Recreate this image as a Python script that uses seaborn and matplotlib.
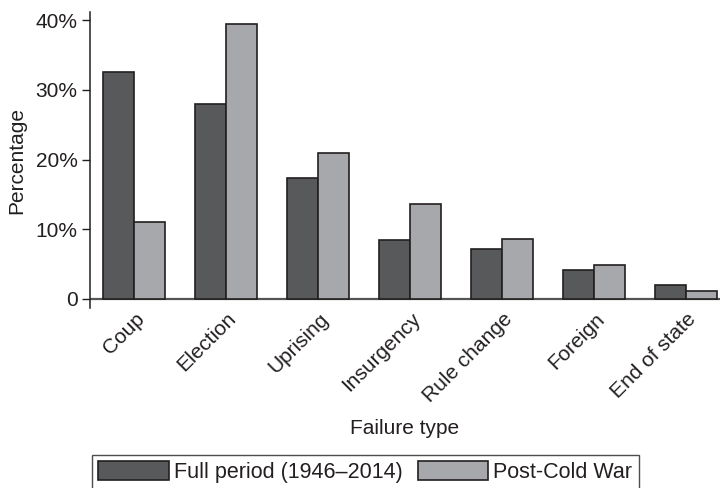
import matplotlib
matplotlib.use("Agg")
import matplotlib.pyplot as plt
import matplotlib.transforms as mtransforms
import seaborn as sns
import pandas as pd

categories = ["Coup", "Election", "Uprising", "Insurgency", "Rule change", "Foreign", "End of state"]
full_period = [32.6, 28.0, 17.4, 8.4, 7.1, 4.2, 2.05]
post_cold_war = [11.1, 39.4, 20.9, 13.6, 8.6, 4.9, 1.2]
series_names = ["Full period (1946\u20132014)", "Post-Cold War"]
ytick_vals = [0, 10, 20, 30, 40]
ytick_labels = ["0", "10%", "20%", "30%", "40%"]

df = pd.DataFrame({
    "type": categories * 2,
    "value": full_period + post_cold_war,
    "series": [series_names[0]] * len(categories) + [series_names[1]] * len(categories),
})

sns.set_style("white")
plt.rcParams["font.family"] = ["Liberation Sans", "DejaVu Sans"]
txt = "#231f20"

fig = plt.figure(figsize=(7.2, 4.88), dpi=100)
ax = fig.add_axes([0.125, 0.369, 0.875, 0.606])

sns.barplot(data=df, x="type", y="value", hue="series", order=categories,
            hue_order=series_names, palette=["#58595b", "#a7a8ab"],
            width=0.674, edgecolor="#231f20", linewidth=1.2, saturation=1,
            ax=ax, legend=True)

ax.set_xlim(-0.478, 6.37)
ax.set_ylim(-1.3, 41.15)
ax.set_yticks(ytick_vals)
ax.set_yticklabels(ytick_labels)
for s in ["top", "right", "bottom"]:
    ax.spines[s].set_visible(False)
ax.spines["left"].set_color("#231f20")
ax.spines["left"].set_linewidth(1.1)
ax.axhline(0, color="#555555", linewidth=1.6, zorder=0.5)
ax.tick_params(axis="y", length=6, width=1.0, color="#231f20", labelsize=15,
               labelcolor=txt, pad=3, left=True)
ax.tick_params(axis="x", length=0, labelsize=15, labelcolor=txt, pad=2)
ax.set_xticks(range(len(categories)))
ax.set_xticklabels(categories, rotation=45, ha="right", va="center",
                   rotation_mode="anchor")
offset = mtransforms.ScaledTranslation(0.075, -0.05, fig.dpi_scale_trans)
for lab in ax.get_xticklabels():
    lab.set_transform(lab.get_transform() + offset)
ax.set_ylabel("Percentage", fontsize=15, color=txt, labelpad=7)
ax.set_xlabel("Failure type", fontsize=15, color=txt, labelpad=10)

h, l = ax.get_legend_handles_labels()
ax.get_legend().remove()
leg = fig.legend(h, l, loc="upper left", bbox_to_anchor=(92 / 720, 1 - 455 / 488),
                 ncol=2, fontsize=15.5, frameon=True, fancybox=False,
                 handlelength=3.26, handleheight=0.93, handletextpad=0.25,
                 columnspacing=0.7, borderpad=0.3, borderaxespad=0)
leg.get_frame().set_edgecolor("#231f20")
leg.get_frame().set_linewidth(1.0)
for t in leg.get_texts():
    t.set_color(txt)

fig.savefig("out.png", dpi=100)
